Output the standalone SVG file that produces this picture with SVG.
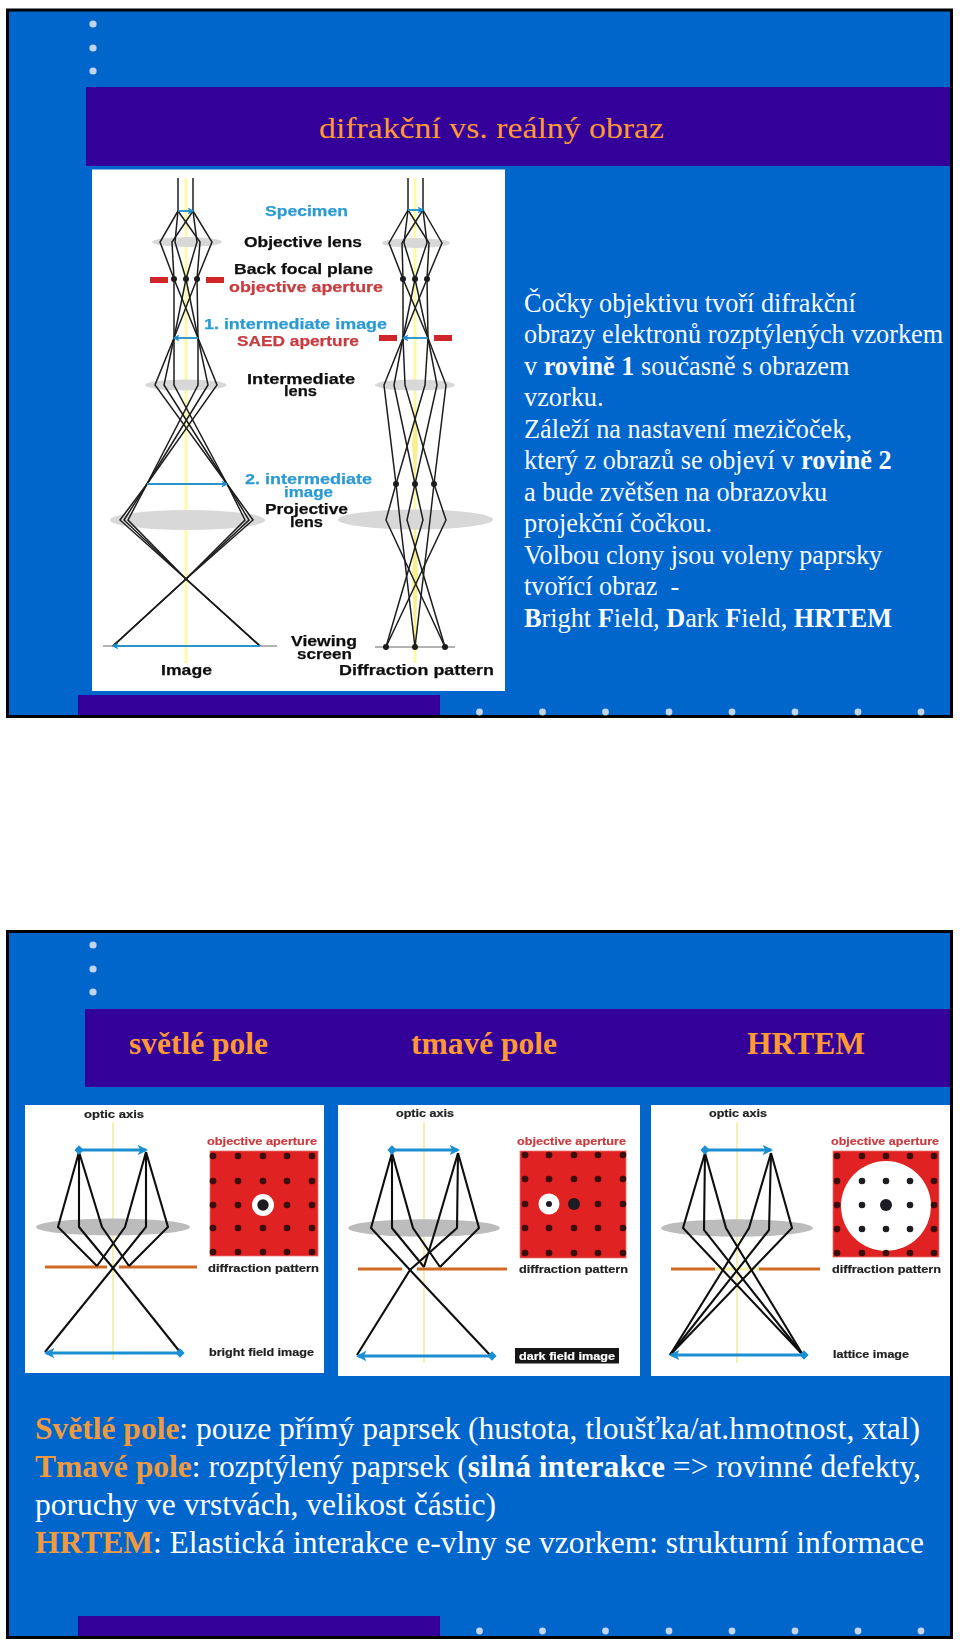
<svg xmlns="http://www.w3.org/2000/svg" width="960" height="1646" viewBox="0 0 960 1646">
<style>
.slide{fill:#0066cc;stroke:#000;stroke-width:3}
.band{fill:#330099}
.dot{fill:#c4d4ec}
.photo{fill:#fff}
.axis{fill:none;stroke:#fbfaa8;stroke-width:3}
.axis2{fill:none;stroke:#f2eda0;stroke-width:1.6}
.ray{fill:none;stroke:#1e1e1e;stroke-width:1.5;stroke-linejoin:miter}
.ray2{fill:none;stroke:#111;stroke-width:2.1;stroke-linejoin:miter}
.lens{fill:#d8d8d8}
.lens2{fill:#bcbcbc}
.ap{fill:#d0272c}
.fp{fill:#1a1a1a}
.blue{fill:none;stroke:#2a94c8;stroke-width:1.9}
.blue2{fill:none;stroke:#1b8fd2;stroke-width:2.9}
.orange{stroke:#cf6a22;stroke-width:2.8}
.square{fill:#e02020;stroke:#e87878;stroke-width:.8}
.sd{fill:#3a0d10}
.lb{font-family:"Liberation Sans",Arial,sans-serif;font-weight:700;font-size:15px;fill:#111;stroke:#111;stroke-width:.25}
.ls{font-family:"Liberation Sans",Arial,sans-serif;font-weight:700;font-size:11px;fill:#222;stroke:#222;stroke-width:.2}
.lb.cb,.ls.cb{fill:#2c9bd2;stroke:#2c9bd2}
.lb.cr,.ls.cr{fill:#c73c3f;stroke:#c73c3f}
.t{font-family:"Liberation Serif","Times New Roman",serif}
.title{font-size:30px;fill:#ff9933}
.hd{font-size:31px;font-weight:700;fill:#ff9933}
.body{font-size:26.25px;fill:#f8fbff}
.low{font-size:31px;fill:#fff}
.or{font-weight:700;fill:#f09a40}
.b{font-weight:700}
</style>
<defs>
<marker id="ah" viewBox="0 0 10 10" refX="8" refY="5" markerWidth="3.6" markerHeight="3.6" orient="auto-start-reverse"><path d="M0 0L10 5L0 10L2.5 5Z" fill="#1b8fd2"/></marker>
<marker id="dm" viewBox="0 0 10 10" refX="5" refY="5" markerWidth="3.2" markerHeight="3.2" orient="auto"><path d="M5 0L10 5L5 10L0 5Z" fill="#1b8fd2"/></marker>
<filter id="soft" x="-2%" y="-2%" width="104%" height="104%"><feGaussianBlur stdDeviation="0.45"/></filter>
</defs>

<g id="slide-1">
<rect class="slide" x="7.5" y="10" width="944" height="706.5"/>
<g id="slide-1-dots-top"><circle class="dot" cx="93" cy="24" r="3.6"/><circle class="dot" cx="93" cy="48" r="3.6"/><circle class="dot" cx="93" cy="71" r="3.6"/></g>
<rect class="band" x="86" y="87" width="864" height="79"/>
<text class="t title" x="319" y="138" textLength="345" lengthAdjust="spacingAndGlyphs">difrakční vs. reálný obraz</text>
<rect class="band" x="78" y="695" width="362" height="20"/>
<g id="slide-1-dots-bottom"><circle class="dot" cx="479.5" cy="712" r="3.4"/><circle class="dot" cx="542.5" cy="712" r="3.4"/><circle class="dot" cx="605.5" cy="712" r="3.4"/><circle class="dot" cx="669" cy="712" r="3.4"/><circle class="dot" cx="732" cy="712" r="3.4"/><circle class="dot" cx="795" cy="712" r="3.4"/><circle class="dot" cx="858" cy="712" r="3.4"/><circle class="dot" cx="921" cy="712" r="3.4"/></g>
</g>

<g id="ray-figure" filter="url(#soft)">
<rect class="photo" x="92" y="169.500" width="413" height="521.500"/>
<line class="axis" x1="186" y1="178" x2="186" y2="663"/>
<line class="axis" x1="415" y1="178" x2="415" y2="663"/>
<path d="M415 647L412 575L415 520L418 575Z" fill="#f8f090"/>
<path d="M415 484L412 445L415 400L418 445Z" fill="#f8f090"/>
<ellipse class="lens" cx="187" cy="242" rx="35" ry="5"/>
<ellipse class="lens" cx="186" cy="385" rx="41" ry="5.500"/>
<ellipse class="lens" cx="187.500" cy="520" rx="77.500" ry="10"/>
<ellipse class="lens" cx="416" cy="243" rx="34" ry="5"/>
<ellipse class="lens" cx="415" cy="385" rx="40" ry="5.500"/>
<ellipse class="lens" cx="415.500" cy="519.500" rx="77.500" ry="10"/>
<line x1="103" y1="646" x2="277" y2="646" stroke="#999" stroke-width="1.500"/>
<line x1="375" y1="647" x2="455" y2="647" stroke="#999" stroke-width="1.500"/>
<g id="connectors-image-path">
<polyline class="ray" points="178,178 178,211"/><polyline class="ray" points="193,178 193,211"/>
<polyline class="ray" points="178,211 160,242 174,279 198,338"/>
<polyline class="ray" points="178,211 175,242 186,279 198,338"/>
<polyline class="ray" points="178,211 200,242 197,279 198,338"/>
<polyline class="ray" points="193,211 212,242 197,279 174,338"/>
<polyline class="ray" points="193,211 197,242 186,279 174,338"/>
<polyline class="ray" points="193,211 172,242 174,279 174,338"/>
<polyline class="ray" points="174,338 155,385 227,484 253,520 186,579 113,646"/>
<polyline class="ray" points="174,338 164,385 227,484 249,520 186,579 113,646"/>
<polyline class="ray" points="174,338 174,385 227,484 245,520 186,579 113,646"/>
<polyline class="ray" points="198,338 217,385 147,484 120,520 186,579 260,646"/>
<polyline class="ray" points="198,338 208,385 147,484 124,520 186,579 260,646"/>
<polyline class="ray" points="198,338 198,385 147,484 128,520 186,579 260,646"/>
</g>
<g id="connectors-diffraction-path">
<polyline class="ray" points="408,178 408,210"/><polyline class="ray" points="423,178 423,210"/>
<polyline class="ray" points="408,210 389,243 403,279 428,338"/>
<polyline class="ray" points="408,210 404,243 415,279 428,338"/>
<polyline class="ray" points="408,210 429,243 427,279 428,338"/>
<polyline class="ray" points="423,210 442,243 427,279 403,338"/>
<polyline class="ray" points="423,210 427,243 415,279 403,338"/>
<polyline class="ray" points="423,210 402,243 403,279 403,338"/>
<polyline class="ray" points="403,338 384,385 396,484 386,520 445,647"/>
<polyline class="ray" points="403,338 394,385 415,484 423,520 386,647"/>
<polyline class="ray" points="403,338 405,385 434,484 446,520 386,647"/>
<polyline class="ray" points="428,338 425,385 396,484 400,520 415,647"/>
<polyline class="ray" points="428,338 437,385 415,484 407,520 445,647"/>
<polyline class="ray" points="428,338 446,385 434,484 430,520 415,647"/>
</g>
<g id="focal-points">
<circle class="fp" cx="174" cy="279" r="3"/><circle class="fp" cx="186" cy="279" r="3"/><circle class="fp" cx="197" cy="279" r="3"/>
<circle class="fp" cx="403" cy="279" r="3"/><circle class="fp" cx="415" cy="279" r="3"/><circle class="fp" cx="427" cy="279" r="3"/>
<circle class="fp" cx="396" cy="484" r="3"/><circle class="fp" cx="415" cy="484" r="3"/><circle class="fp" cx="434" cy="484" r="3"/>
<circle class="fp" cx="386" cy="647" r="3"/><circle class="fp" cx="415" cy="647" r="3"/><circle class="fp" cx="445" cy="647" r="3"/>
</g>
<g id="apertures">
<rect class="ap" x="150" y="277" width="18" height="6"/><rect class="ap" x="206" y="277" width="18" height="6"/>
<rect class="ap" x="379" y="335" width="18" height="6"/><rect class="ap" x="434" y="335" width="18" height="6"/>
</g>
<g id="image-arrows">
<line class="blue" x1="178" y1="211" x2="193" y2="211" marker-end="url(#ah)"/>
<line class="blue" x1="408" y1="210" x2="423" y2="210" marker-end="url(#ah)"/>
<line class="blue" x1="198" y1="338" x2="174" y2="338" marker-end="url(#ah)"/>
<line class="blue" x1="428" y1="338" x2="403" y2="338" marker-end="url(#ah)"/>
<line class="blue" x1="147" y1="484" x2="227" y2="484" marker-end="url(#ah)"/>
<line class="blue" x1="260" y1="646" x2="113" y2="646" marker-end="url(#ah)"/>
</g>
<g id="figure-labels">
<text class="lb cb" x="265" y="216" textLength="83" lengthAdjust="spacingAndGlyphs">Specimen</text>
<text class="lb" x="244" y="247" textLength="118" lengthAdjust="spacingAndGlyphs">Objective lens</text>
<text class="lb" x="234" y="274" textLength="139" lengthAdjust="spacingAndGlyphs">Back focal plane</text>
<text class="lb cr" x="229" y="292" textLength="154" lengthAdjust="spacingAndGlyphs">objective aperture</text>
<text class="lb cb" x="204" y="329" textLength="183" lengthAdjust="spacingAndGlyphs">1. intermediate image</text>
<text class="lb cr" x="237" y="346" textLength="122" lengthAdjust="spacingAndGlyphs">SAED aperture</text>
<text class="lb" x="247" y="384" textLength="108" lengthAdjust="spacingAndGlyphs">Intermediate</text>
<text class="lb" x="284" y="396" textLength="33" lengthAdjust="spacingAndGlyphs">lens</text>
<text class="lb cb" x="245" y="484" textLength="127" lengthAdjust="spacingAndGlyphs">2. intermediate</text>
<text class="lb cb" x="284" y="497" textLength="49" lengthAdjust="spacingAndGlyphs">image</text>
<text class="lb" x="265" y="514" textLength="83" lengthAdjust="spacingAndGlyphs">Projective</text>
<text class="lb" x="290" y="527" textLength="33" lengthAdjust="spacingAndGlyphs">lens</text>
<text class="lb" x="291" y="646" textLength="66" lengthAdjust="spacingAndGlyphs">Viewing</text>
<text class="lb" x="297" y="659" textLength="55" lengthAdjust="spacingAndGlyphs">screen</text>
<text class="lb" x="161" y="675" textLength="51" lengthAdjust="spacingAndGlyphs">Image</text>
<text class="lb" x="339" y="675" textLength="155" lengthAdjust="spacingAndGlyphs">Diffraction pattern</text>
</g>
</g>

<g id="slide-1-text" class="t body">
<text x="524" y="311.500">Čočky objektivu tvoří difrakční</text>
<text x="524" y="343">obrazy elektronů rozptýlených vzorkem</text>
<text x="524" y="374.500">v <tspan class="b">rovině 1</tspan> současně s obrazem</text>
<text x="524" y="406">vzorku.</text>
<text x="524" y="437.500">Záleží na nastavení mezičoček,</text>
<text x="524" y="469">který z obrazů se objeví v <tspan class="b">rovině 2</tspan></text>
<text x="524" y="500.500">a bude zvětšen na obrazovku</text>
<text x="524" y="532">projekční čočkou.</text>
<text x="524" y="563.500">Volbou clony jsou voleny paprsky</text>
<text x="524" y="595" xml:space="preserve">tvořící obraz  -</text>
<text x="524" y="626.500"><tspan class="b">B</tspan>right <tspan class="b">F</tspan>ield, <tspan class="b">D</tspan>ark <tspan class="b">F</tspan>ield, <tspan class="b">HRTEM</tspan></text>
</g>

<g id="slide-2">
<rect class="slide" x="7.500" y="931.500" width="944" height="706"/>
<g id="slide-2-dots-top"><circle class="dot" cx="93" cy="945" r="3.600"/><circle class="dot" cx="93" cy="969" r="3.600"/><circle class="dot" cx="93" cy="992" r="3.600"/></g>
<rect class="band" x="85" y="1009" width="865" height="78"/>
<text class="t hd" x="129" y="1054" textLength="139" lengthAdjust="spacingAndGlyphs">světlé pole</text>
<text class="t hd" x="411" y="1054" textLength="146" lengthAdjust="spacingAndGlyphs">tmavé pole</text>
<text class="t hd" x="747" y="1054" textLength="118" lengthAdjust="spacingAndGlyphs">HRTEM</text>
<rect class="band" x="78" y="1616" width="362" height="20"/>
<g id="slide-2-dots-bottom"><circle class="dot" cx="479.500" cy="1631" r="3.400"/><circle class="dot" cx="542.500" cy="1631" r="3.400"/><circle class="dot" cx="605.500" cy="1631" r="3.400"/><circle class="dot" cx="669" cy="1631" r="3.400"/><circle class="dot" cx="732" cy="1631" r="3.400"/><circle class="dot" cx="795" cy="1631" r="3.400"/><circle class="dot" cx="858" cy="1631" r="3.400"/><circle class="dot" cx="921" cy="1631" r="3.400"/></g>
</g>

<g id="panel-bright" filter="url(#soft)">
<rect class="photo" x="25" y="1105" width="299" height="268"/>
<line class="axis2" x1="113" y1="1122" x2="113" y2="1360"/>
<ellipse class="lens2" cx="113" cy="1227" rx="77" ry="8.500"/>
<line class="orange" x1="45" y1="1267" x2="107" y2="1267"/><line class="orange" x1="119" y1="1267" x2="197" y2="1267"/>
<g id="connectors-bright">
<polyline class="ray2" points="79,1152 58,1227 97,1266"/>
<polyline class="ray2" points="146,1152 125,1227 97,1266"/>
<polyline class="ray2" points="146,1152 168,1227 129,1266"/>
<polyline class="ray2" points="79,1152 102,1227 129,1266"/>
<polyline class="ray2" points="79,1152 79,1227 113,1268 180,1352"/>
<polyline class="ray2" points="146,1152 146,1227 113,1268 45,1352"/>
</g>
<line class="blue2" x1="79" y1="1150" x2="146" y2="1150" marker-start="url(#dm)" marker-end="url(#ah)"/>
<line class="blue2" x1="180" y1="1353" x2="46" y2="1353" marker-start="url(#dm)" marker-end="url(#ah)"/>
<text class="ls cr" x="207" y="1145" textLength="110" lengthAdjust="spacingAndGlyphs">objective aperture</text>
<rect class="square" x="210" y="1151" width="108" height="105"/>
<g class="sd"><circle cx="213" cy="1156" r="3.300"/><circle cx="238" cy="1156" r="3.300"/><circle cx="263" cy="1156" r="3.300"/><circle cx="287" cy="1156" r="3.300"/><circle cx="312" cy="1156" r="3.300"/><circle cx="213" cy="1181" r="3.300"/><circle cx="238" cy="1181" r="3.300"/><circle cx="263" cy="1181" r="3.300"/><circle cx="287" cy="1181" r="3.300"/><circle cx="312" cy="1181" r="3.300"/><circle cx="213" cy="1205" r="3.300"/><circle cx="238" cy="1205" r="3.300"/><circle cx="287" cy="1205" r="3.300"/><circle cx="312" cy="1205" r="3.300"/><circle cx="213" cy="1228" r="3.300"/><circle cx="238" cy="1228" r="3.300"/><circle cx="263" cy="1228" r="3.300"/><circle cx="287" cy="1228" r="3.300"/><circle cx="312" cy="1228" r="3.300"/><circle cx="213" cy="1252" r="3.300"/><circle cx="238" cy="1252" r="3.300"/><circle cx="263" cy="1252" r="3.300"/><circle cx="287" cy="1252" r="3.300"/><circle cx="312" cy="1252" r="3.300"/></g>
<circle cx="263" cy="1205" r="11" fill="#fff"/><circle cx="263" cy="1205" r="5.700" fill="#1c1c22"/>
<text class="ls" x="84" y="1118" textLength="60" lengthAdjust="spacingAndGlyphs">optic axis</text>
<text class="ls" x="208" y="1272" textLength="111" lengthAdjust="spacingAndGlyphs">diffraction pattern</text>
<text class="ls" x="209" y="1356" textLength="105" lengthAdjust="spacingAndGlyphs">bright field image</text>
</g>

<g id="panel-dark" filter="url(#soft)">
<rect class="photo" x="338" y="1105" width="302" height="271"/>
<line class="axis2" x1="424" y1="1122" x2="424" y2="1363"/>
<ellipse class="lens2" cx="424" cy="1228" rx="76" ry="8.700"/>
<line class="orange" x1="358" y1="1269" x2="402" y2="1269"/><line class="orange" x1="417" y1="1269" x2="507" y2="1269"/>
<g id="connectors-dark">
<polyline class="ray2" points="392,1153 371,1228 410,1270 490,1355"/>
<polyline class="ray2" points="458,1153 457,1228 410,1270 357,1355"/>
<polyline class="ray2" points="392,1153 392,1228 424,1267"/>
<polyline class="ray2" points="458,1153 436,1228 424,1267"/>
<polyline class="ray2" points="392,1153 413,1228 440,1267"/>
<polyline class="ray2" points="458,1153 479,1228 440,1267"/>
</g>
<line class="blue2" x1="392" y1="1150" x2="458" y2="1150" marker-start="url(#dm)" marker-end="url(#ah)"/>
<line class="blue2" x1="492" y1="1356" x2="358" y2="1356" marker-start="url(#dm)" marker-end="url(#ah)"/>
<text class="ls cr" x="517" y="1145" textLength="109" lengthAdjust="spacingAndGlyphs">objective aperture</text>
<rect class="square" x="520" y="1151" width="106" height="107"/>
<g class="sd"><circle cx="525" cy="1155" r="3.300"/><circle cx="549" cy="1155" r="3.300"/><circle cx="574" cy="1155" r="3.300"/><circle cx="598" cy="1155" r="3.300"/><circle cx="623" cy="1155" r="3.300"/><circle cx="525" cy="1179" r="3.300"/><circle cx="549" cy="1179" r="3.300"/><circle cx="574" cy="1179" r="3.300"/><circle cx="598" cy="1179" r="3.300"/><circle cx="623" cy="1179" r="3.300"/><circle cx="525" cy="1204" r="3.300"/><circle cx="598" cy="1204" r="3.300"/><circle cx="623" cy="1204" r="3.300"/><circle cx="525" cy="1228" r="3.300"/><circle cx="549" cy="1228" r="3.300"/><circle cx="574" cy="1228" r="3.300"/><circle cx="598" cy="1228" r="3.300"/><circle cx="623" cy="1228" r="3.300"/><circle cx="525" cy="1253" r="3.300"/><circle cx="549" cy="1253" r="3.300"/><circle cx="574" cy="1253" r="3.300"/><circle cx="598" cy="1253" r="3.300"/><circle cx="623" cy="1253" r="3.300"/></g>
<circle cx="549" cy="1204" r="10.500" fill="#fff"/><circle cx="549" cy="1204" r="3" fill="#1c1c22"/><circle cx="574" cy="1204" r="6" fill="#1c1c22"/>
<text class="ls" x="396" y="1117" textLength="58" lengthAdjust="spacingAndGlyphs">optic axis</text>
<text class="ls" x="519" y="1273" textLength="109" lengthAdjust="spacingAndGlyphs">diffraction pattern</text>
<rect x="515" y="1348" width="104" height="15.500" fill="#151515"/>
<text class="ls" style="fill:#fff;stroke:#fff" x="519" y="1359.500" textLength="96" lengthAdjust="spacingAndGlyphs">dark field image</text>
</g>

<g id="panel-lattice" filter="url(#soft)">
<rect class="photo" x="651" y="1105" width="299" height="271"/>
<line class="axis2" x1="737" y1="1122" x2="737" y2="1363"/>
<ellipse class="lens2" cx="737" cy="1228" rx="76" ry="8.700"/>
<line x1="715" y1="1269" x2="759" y2="1269" stroke="#f8f2a8" stroke-width="3"/>
<line class="orange" x1="671" y1="1269" x2="715" y2="1269"/><line class="orange" x1="759" y1="1269" x2="820" y2="1269"/>
<g id="connectors-lattice">
<polyline class="ray2" points="705,1153 683,1228 803,1355"/>
<polyline class="ray2" points="705,1153 704,1230 803,1355"/>
<polyline class="ray2" points="705,1153 726,1228 803,1355"/>
<polyline class="ray2" points="771,1153 749,1228 670,1355"/>
<polyline class="ray2" points="771,1153 769,1230 670,1355"/>
<polyline class="ray2" points="771,1153 792,1228 670,1355"/>
</g>
<line class="blue2" x1="705" y1="1150" x2="771" y2="1150" marker-start="url(#dm)" marker-end="url(#ah)"/>
<line class="blue2" x1="804" y1="1355" x2="671" y2="1355" marker-start="url(#dm)" marker-end="url(#ah)"/>
<text class="ls cr" x="831" y="1145" textLength="108" lengthAdjust="spacingAndGlyphs">objective aperture</text>
<rect class="square" x="833" y="1151" width="106" height="106"/>
<circle cx="886" cy="1206" r="45" fill="#fff"/>
<g class="sd"><circle cx="837" cy="1156" r="3.300"/><circle cx="862" cy="1156" r="3.300"/><circle cx="886" cy="1156" r="3.300"/><circle cx="910" cy="1156" r="3.300"/><circle cx="934" cy="1156" r="3.300"/><circle cx="837" cy="1181" r="3.300"/><circle cx="934" cy="1181" r="3.300"/><circle cx="837" cy="1205" r="3.300"/><circle cx="934" cy="1205" r="3.300"/><circle cx="837" cy="1229" r="3.300"/><circle cx="934" cy="1229" r="3.300"/><circle cx="837" cy="1253" r="3.300"/><circle cx="862" cy="1253" r="3.300"/><circle cx="886" cy="1253" r="3.300"/><circle cx="910" cy="1253" r="3.300"/><circle cx="934" cy="1253" r="3.300"/></g>
<g fill="#1c1c22"><circle cx="862" cy="1181" r="3.300"/><circle cx="886" cy="1181" r="3.300"/><circle cx="910" cy="1181" r="3.300"/><circle cx="862" cy="1205" r="3.300"/><circle cx="910" cy="1205" r="3.300"/><circle cx="862" cy="1229" r="3.300"/><circle cx="886" cy="1229" r="3.300"/><circle cx="910" cy="1229" r="3.300"/><circle cx="886" cy="1205" r="6"/></g>
<text class="ls" x="709" y="1117" textLength="58" lengthAdjust="spacingAndGlyphs">optic axis</text>
<text class="ls" x="832" y="1273" textLength="109" lengthAdjust="spacingAndGlyphs">diffraction pattern</text>
<text class="ls" x="833" y="1358" textLength="76" lengthAdjust="spacingAndGlyphs">lattice image</text>
</g>

<g id="slide-2-text" class="t low">
<text x="35" y="1439" textLength="885" lengthAdjust="spacingAndGlyphs"><tspan class="or">Světlé pole</tspan>: pouze přímý paprsek (hustota, tloušťka/at.hmotnost, xtal)</text>
<text x="35" y="1477" textLength="886" lengthAdjust="spacingAndGlyphs"><tspan class="or">Tmavé pole</tspan>: rozptýlený paprsek (<tspan class="b">silná interakce</tspan> =&gt; rovinné defekty,</text>
<text x="35" y="1515" textLength="461" lengthAdjust="spacingAndGlyphs">poruchy ve vrstvách, velikost částic)</text>
<text x="35" y="1553" textLength="889" lengthAdjust="spacingAndGlyphs"><tspan class="or">HRTEM</tspan>: Elastická interakce e-vlny se vzorkem: strukturní informace</text>
</g>
</svg>
